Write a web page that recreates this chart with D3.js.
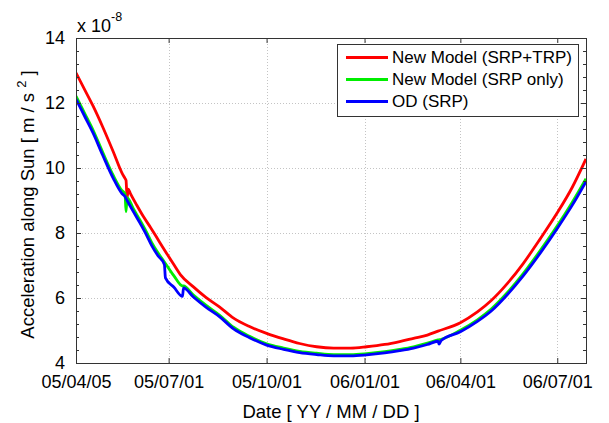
<!DOCTYPE html>
<html>
<head>
<meta charset="utf-8">
<script src="https://cdn.jsdelivr.net/npm/d3@7"></script>
<style>
  html, body { margin: 0; padding: 0; background: #fff; }
  svg { display: block; font-family: "Liberation Sans", Arial, Helvetica, sans-serif; }
</style>
</head>
<body>
<svg id="chart" width="609" height="423"></svg>
<script>
// Acceleration along the Sun direction, in units of 1e-8 m/s^2

// New Model (SRP+TRP)
const redDates = ["2005-04-05","2005-04-13","2005-04-21","2005-04-30","2005-05-10","2005-05-18","2005-05-21","2005-05-22","2005-05-23","2005-05-24","2005-05-26","2005-06-01","2005-06-07","2005-06-14","2005-06-21","2005-06-29","2005-07-06","2005-07-12","2005-07-24","2005-08-05","2005-08-18","2005-08-31","2005-09-15","2005-10-01","2005-10-17","2005-11-01","2005-11-17","2005-12-03","2005-12-19","2006-01-03","2006-01-20","2006-02-03","2006-02-16","2006-03-01","2006-03-11","2006-04-01","2006-04-17","2006-04-30","2006-05-15","2006-05-30","2006-06-15","2006-07-01","2006-07-15","2006-07-28"];
const redValues = [12.93,12.42,11.91,11.27,10.50,9.86,9.68,9.62,9.07,9.35,9.22,8.86,8.52,8.17,7.80,7.38,7.02,6.72,6.35,6.02,5.72,5.38,5.12,4.91,4.74,4.60,4.50,4.46,4.46,4.50,4.57,4.66,4.76,4.86,4.98,5.24,5.57,5.92,6.44,7.06,7.82,8.62,9.40,10.28];

// New Model (SRP only)
const greenDates = ["2005-04-05","2005-04-13","2005-04-21","2005-04-30","2005-05-10","2005-05-18","2005-05-21","2005-05-22","2005-05-23","2005-05-29","2005-06-04","2005-06-10","2005-06-15","2005-06-21","2005-06-27","2005-07-06","2005-07-14","2005-07-15","2005-07-24","2005-08-05","2005-08-18","2005-08-31","2005-09-15","2005-10-01","2005-10-17","2005-11-01","2005-11-17","2005-12-03","2005-12-19","2006-01-03","2006-01-20","2006-02-03","2006-02-16","2006-03-01","2006-03-11","2006-03-14","2006-04-01","2006-04-17","2006-04-30","2006-05-15","2006-05-30","2006-06-15","2006-07-01","2006-07-15","2006-07-28"];
const greenValues = [12.21,11.69,11.17,10.49,9.77,9.31,9.21,8.66,9.09,8.74,8.40,8.04,7.71,7.39,7.11,6.68,6.37,6.37,6.10,5.78,5.47,5.10,4.82,4.59,4.46,4.36,4.30,4.26,4.26,4.29,4.35,4.42,4.50,4.61,4.71,4.73,5.01,5.33,5.66,6.16,6.75,7.46,8.22,8.94,9.67];

// OD (SRP)
const blueDates = ["2005-04-05","2005-04-13","2005-04-21","2005-04-30","2005-05-10","2005-05-18","2005-05-21","2005-05-23","2005-05-29","2005-06-04","2005-06-10","2005-06-15","2005-06-21","2005-06-27","2005-06-28","2005-07-06","2005-07-14","2005-07-15","2005-07-24","2005-08-05","2005-08-18","2005-08-31","2005-09-15","2005-10-01","2005-10-17","2005-11-01","2005-11-17","2005-12-03","2005-12-19","2006-01-03","2006-01-20","2006-02-03","2006-02-16","2006-03-01","2006-03-11","2006-03-12","2006-03-14","2006-04-01","2006-04-17","2006-04-30","2006-05-15","2006-05-30","2006-06-15","2006-07-01","2006-07-15","2006-07-28"];
const blueValues = [12.12,11.60,11.08,10.40,9.68,9.22,9.12,9.00,8.65,8.31,7.95,7.62,7.30,7.03,6.62,6.33,6.05,6.31,6.04,5.72,5.42,5.05,4.78,4.55,4.42,4.32,4.26,4.22,4.22,4.25,4.31,4.38,4.46,4.57,4.67,4.58,4.69,4.96,5.28,5.60,6.10,6.68,7.38,8.14,8.85,9.58];

const seriesNames = ["New Model (SRP+TRP)", "New Model (SRP only)", "OD (SRP)"];
const seriesColors = ["#ff0000", "#00ee00", "#0000ff"];

const xTickLabels = ["05/04/05", "05/07/01", "05/10/01", "06/01/01", "06/04/01", "06/07/01"];
const yTickValues = [4, 6, 8, 10, 12, 14];
const xDomain = ["2005-04-05", "2006-07-28"];
const yDomain = [4, 14];

const width = 609, height = 423;
const margin = { top: 38, right: 23, bottom: 60, left: 76 };
const iw = width - margin.left - margin.right;
const ih = height - margin.top - margin.bottom;

const parseDate = d3.timeParse("%Y-%m-%d");
const parseTick = d3.timeParse("%y/%m/%d");
const fmtTick = d3.timeFormat("%y/%m/%d");

const x = d3.scaleTime().domain(xDomain.map(parseDate)).range([0, iw]);
const y = d3.scaleLinear().domain(yDomain).range([ih, 0]);

const svg = d3.select("#chart");
const g = svg.append("g").attr("transform", `translate(${margin.left},${margin.top})`);

const xTicks = xTickLabels.map(parseTick);
const yMinor = d3.range(yDomain[0], yDomain[1] + 1e-9, 0.4).map(v => +v.toFixed(1));

// dotted grid
const grid = g.append("g").attr("class", "grid")
  .attr("stroke", "#c4c4c4").attr("stroke-width", 1).attr("stroke-dasharray", "1,2");
grid.selectAll("line.gx").data(xTicks.slice(1)).join("line")
  .attr("x1", d => Math.round(x(d)) + 0.5).attr("x2", d => Math.round(x(d)) + 0.5)
  .attr("y1", 0).attr("y2", ih);
grid.selectAll("line.gy").data(yTickValues.slice(1, -1)).join("line")
  .attr("y1", d => Math.round(y(d)) + 0.5).attr("y2", d => Math.round(y(d)) + 0.5)
  .attr("x1", 0).attr("x2", iw);

// series lines, drawn in legend order so OD ends up on top
const series = [
  { dates: redDates, values: redValues },
  { dates: greenDates, values: greenValues },
  { dates: blueDates, values: blueValues }
];
g.append("clipPath").attr("id", "plotClip")
  .append("rect").attr("width", iw).attr("height", ih);

const line = d3.line()
  .x(d => x(d[0]))
  .y(d => y(d[1]))
  .curve(d3.curveMonotoneX);

g.append("g").attr("clip-path", "url(#plotClip)")
  .selectAll("path").data(series).join("path")
  .attr("d", s => line(s.dates.map((d, i) => [parseDate(d), s.values[i]])))
  .attr("fill", "none")
  .attr("stroke", (s, i) => seriesColors[i])
  .attr("stroke-width", 2.8)
  .attr("stroke-linejoin", "round");

// axes
function styleAxis(sel) {
  sel.select(".domain").remove();
  sel.selectAll(".tick line").attr("stroke", "#333");
  sel.selectAll("text").attr("fill", "#000").attr("font-size", 18);
}
g.append("g").attr("transform", `translate(0,${ih})`)
  .call(d3.axisBottom(x).tickValues(xTicks).tickFormat(fmtTick).tickSize(-5).tickPadding(12))
  .call(styleAxis);
g.append("g")
  .call(d3.axisTop(x).tickValues(xTicks).tickFormat("").tickSize(-5))
  .call(styleAxis);
g.append("g")
  .call(d3.axisLeft(y).tickValues(yTickValues).tickFormat(d3.format("d")).tickSize(-5).tickPadding(11))
  .call(styleAxis);
g.append("g")
  .call(d3.axisLeft(y).tickValues(yMinor).tickFormat("").tickSize(-3))
  .call(styleAxis);
g.append("g").attr("transform", `translate(${iw},0)`)
  .call(d3.axisRight(y).tickValues(yTickValues).tickFormat("").tickSize(-5))
  .call(styleAxis);
g.append("g").attr("transform", `translate(${iw},0)`)
  .call(d3.axisRight(y).tickValues(yMinor).tickFormat("").tickSize(-3))
  .call(styleAxis);

// frame
g.append("rect").attr("x", 0.5).attr("y", 0.5).attr("width", iw).attr("height", ih)
  .attr("fill", "none").attr("stroke", "#333").attr("stroke-width", 1);

// exponent
const expo = svg.append("text").attr("x", margin.left + 1).attr("y", 32)
  .attr("font-size", 18).attr("fill", "#000");
expo.append("tspan").text("x 10");
expo.append("tspan").attr("font-size", 12.5).attr("dy", -11).text("-8");

// axis titles
svg.append("text")
  .attr("x", margin.left + iw / 2).attr("y", 418)
  .attr("text-anchor", "middle").attr("font-size", 18.5).attr("fill", "#000")
  .text("Date [ YY / MM / DD ]");

const yl = svg.append("text")
  .attr("transform", `translate(34,${margin.top + ih / 2 + 4}) rotate(-90)`)
  .attr("text-anchor", "middle").attr("font-size", 18.5).attr("fill", "#000");
yl.append("tspan").text("Acceleration along Sun [ m / s ");
yl.append("tspan").attr("font-size", 13).attr("dy", -8).text("2");
yl.append("tspan").attr("dy", 8).text(" ]");

// legend
const lg = svg.append("g").attr("transform", "translate(337,44)");
lg.append("rect").attr("x", 0.5).attr("y", 0.5).attr("width", 241).attr("height", 72)
  .attr("fill", "#fff").attr("stroke", "#333").attr("stroke-width", 1);
const items = lg.selectAll("g.item").data(seriesNames).join("g")
  .attr("transform", (d, i) => `translate(0,${13.5 + i * 22})`);
items.append("line").attr("x1", 9).attr("x2", 51).attr("y1", 0).attr("y2", 0)
  .attr("stroke", (d, i) => seriesColors[i]).attr("stroke-width", 2.8);
items.append("text").attr("x", 55).attr("y", 0).attr("dy", "0.35em")
  .attr("font-size", 17).attr("fill", "#000").text(d => d);
</script>
</body>
</html>
